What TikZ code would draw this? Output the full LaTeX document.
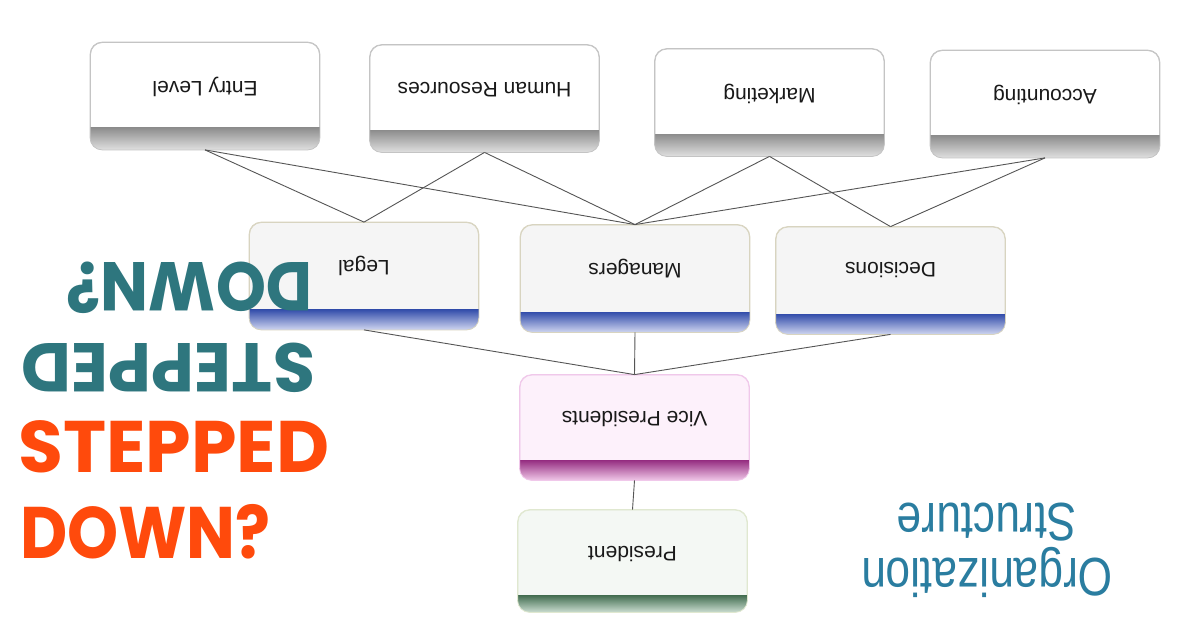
\documentclass[tikz,border=0pt]{standalone}
\usepackage{fontspec}
\usepackage{graphicx}
\setmainfont{Liberation Sans}
\newfontfamily\pop{Poppins}
\definecolor{orangeT}{HTML}{FF4A0C}
\definecolor{tealT}{HTML}{2E767E}
\definecolor{orgblue}{HTML}{2A7DA0}
\definecolor{linec}{HTML}{555555}
\definecolor{topborder}{HTML}{C4C4C4}
\definecolor{midborder}{HTML}{D8D4C0}
\definecolor{greytop}{HTML}{8E8E8E}
\definecolor{greybot}{HTML}{E0E0E0}
\definecolor{bluetop}{HTML}{3650AC}
\definecolor{bluebot}{HTML}{D0D6F0}
\definecolor{vpborder}{HTML}{F0C8EA}
\definecolor{vpfill}{HTML}{FDF1FB}
\definecolor{vptop}{HTML}{962F82}
\definecolor{vpbot}{HTML}{F0C8E8}
\definecolor{prborder}{HTML}{E0E8D0}
\definecolor{prfill}{HTML}{F4F8F4}
\definecolor{prtop}{HTML}{456F52}
\definecolor{prbot}{HTML}{CCDED2}
\begin{document}
\begin{tikzpicture}[x=1pt,y=-1pt,
  orgbox/.style={draw=#1, rounded corners=12pt, minimum width=229pt, minimum height=107pt, line width=0.8pt, inner sep=0pt},
  boxtxt/.style={rotate=180, font=\fontsize{21}{24}\selectfont, text=black!90, inner sep=0pt},
  conn/.style={draw=linec, line width=0.9pt},
  bigtxt/.style={font=\pop\bfseries\fontsize{73}{80}\selectfont, inner sep=0pt},
  tealtxt/.style={font=\pop\bfseries\fontsize{69}{76}\selectfont, inner sep=0pt, text=tealT, rotate=180}
]
\fill[white] (0,0) rectangle (1200,627);
\useasboundingbox (0,0) rectangle (1200,627);

% top row
\node[orgbox=topborder, fill=white] (entry) at (205,96) {};
\node[orgbox=topborder, fill=white] (hr) at (484.5,98.5) {};
\node[orgbox=topborder, fill=white] (mkt) at (769.5,102.5) {};
\node[orgbox=topborder, fill=white] (acc) at (1045,104) {};

% middle row
\node[orgbox=midborder, fill=black!4] (legal) at (364,276) {};
\node[orgbox=midborder, fill=black!4] (mgr) at (635,278.5) {};
\node[orgbox=midborder, fill=black!4] (dec) at (890.5,280.5) {};

% VP and President
\node[orgbox=vpborder, fill=vpfill, minimum height=105pt] (vp) at (634.5,427.5) {};
\node[orgbox=prborder, fill=prfill, minimum height=102pt] (pres) at (632.5,561) {};

% coloured bands at the bottom of each box
\foreach \n/\t/\b/\h/\c in {entry/greytop/greybot/22pt/topborder, hr/greytop/greybot/22pt/topborder,
    mkt/greytop/greybot/22pt/topborder, acc/greytop/greybot/22pt/topborder,
    legal/bluetop/bluebot/20pt/midborder, mgr/bluetop/bluebot/20pt/midborder, dec/bluetop/bluebot/20pt/midborder,
    vp/vptop/vpbot/20pt/vpborder, pres/prtop/prbot/17pt/prborder}{
  \begin{scope}
    \clip[rounded corners=12pt] (\n.south west) rectangle (\n.north east);
    \shade[top color=\t, bottom color=\b, middle color=\t!50!\b] (\n.south west) rectangle ([yshift=\h]\n.south east);
  \end{scope}
  \draw[\c, line width=0.8pt, rounded corners=12pt] (\n.south west) rectangle (\n.north east);
}

% box texts
\node[boxtxt] (entryT) at ([yshift=9pt]entry.center) {Entry Level};
\node[boxtxt] (hrT) at ([yshift=9pt]hr.center) {Human Resources};
\node[boxtxt] (mktT) at ([yshift=9pt]mkt.center) {Marketing};
\node[boxtxt] (accT) at ([yshift=9pt]acc.center) {Accounting};
\node[boxtxt] (legalT) at ([yshift=10pt]legal.center) {Legal};
\node[boxtxt] (mgrT) at ([yshift=10pt]mgr.center) {Managers};
\node[boxtxt] (decT) at ([yshift=10pt]dec.center) {Decisions};
\node[boxtxt] (vpT) at ([yshift=9pt]vp.center) {Vice Presidents};
\node[boxtxt] (presT) at ([yshift=7pt]pres.center) {President};

% connectors
\draw[conn] (entry.south) -- (legal.north);
\draw[conn] (entry.south) -- (mgr.north);
\draw[conn] (hr.south) -- (legal.north);
\draw[conn] (hr.south) -- (mgr.north);
\draw[conn] (mkt.south) -- (mgr.north);
\draw[conn] (mkt.south) -- (dec.north);
\draw[conn] (acc.south) -- (mgr.north);
\draw[conn] (acc.south) -- (dec.north);
\draw[conn] (legal.south) -- (vp.north);
\draw[conn] (mgr.south) -- (vp.north);
\draw[conn] (dec.south) -- (vp.north);
\draw[conn] (vp.south) -- (pres.north);

% big text
\node[tealtxt] (tdown) at (189.5,287.5) {\scalebox{0.925}[1]{DOWN?}};
\node[tealtxt] (tstep) at (168,367.5) {STEPPED};
\node[bigtxt, text=orangeT, anchor=west] (ostep) at (18,447) {STEPPED};
\node[bigtxt, text=orangeT, anchor=west] (odown) at (20,532) {\scalebox{0.89}[1]{DOWN?}};

% organization structure
\node[rotate=180, text=orgblue, align=center, font=\fontsize{54}{55}\selectfont, inner sep=0pt] (org) at (987,550) {\scalebox{0.82}[1]{Organization}\\\scalebox{0.82}[1]{Structure}};
\end{tikzpicture}
\end{document}
